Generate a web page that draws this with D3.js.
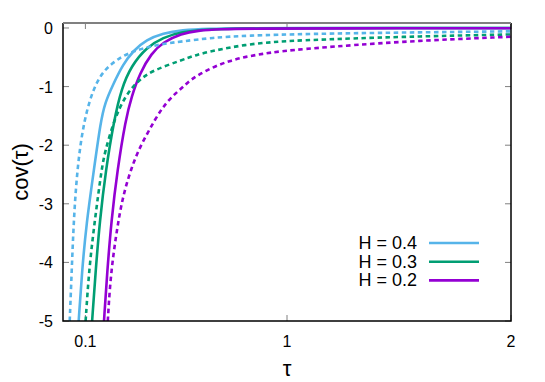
<!DOCTYPE html>
<html>
<head>
<meta charset="utf-8">
<script src="https://cdn.jsdelivr.net/npm/d3@7"></script>
<style>
body { margin: 0; background: #fff; }
text { font-family: "Liberation Sans", Arial, sans-serif; }
</style>
</head>
<body>
<svg id="chart" width="545" height="382"></svg>
<script>
// values: [tau, cov]
const solidH04 = [[0.070,-5],[0.085,-4.15],[0.104,-3.35],[0.138,-2.42],[0.168,-1.60],[0.188,-1.27],[0.224,-0.96],[0.268,-0.62],[0.313,-0.39],[0.373,-0.20],[0.447,-0.09],[0.529,-0.035],[0.65,-0.012],[0.8,-0.004],[1.0,-0.001],[1.5,0],[2.0,0]];
const solidH03 = [[0.130,-5],[0.146,-4.13],[0.164,-3.30],[0.191,-2.42],[0.228,-1.57],[0.261,-1.03],[0.306,-0.64],[0.373,-0.33],[0.447,-0.16],[0.529,-0.065],[0.65,-0.022],[0.8,-0.008],[1.0,-0.003],[1.5,-0.001],[2.0,0]];
const solidH02 = [[0.183,-5],[0.197,-4.18],[0.216,-3.28],[0.243,-2.42],[0.279,-1.57],[0.306,-1.17],[0.343,-0.77],[0.395,-0.43],[0.447,-0.24],[0.529,-0.095],[0.6,-0.045],[0.7,-0.02],[0.85,-0.01],[1.2,-0.006],[2.0,-0.004]];
const dashH04 = [[0.030,-5],[0.039,-4.13],[0.048,-3.28],[0.063,-2.42],[0.092,-1.57],[0.149,-0.86],[0.224,-0.575],[0.298,-0.415],[0.373,-0.33],[0.447,-0.27],[0.529,-0.23],[0.668,-0.165],[0.817,-0.13],[1.10,-0.10],[1.5,-0.078],[2.0,-0.057]];
const dashH03 = [[0.101,-5],[0.116,-4.13],[0.142,-3.28],[0.172,-2.42],[0.186,-2.13],[0.228,-1.57],[0.276,-1.17],[0.336,-0.89],[0.403,-0.72],[0.529,-0.55],[0.594,-0.46],[0.668,-0.39],[0.817,-0.28],[0.966,-0.23],[1.10,-0.205],[1.5,-0.15],[2.0,-0.11]];
const dashH02 = [[0.200,-5],[0.209,-4.415],[0.225,-3.845],[0.248,-3.276],[0.262,-2.992],[0.280,-2.708],[0.303,-2.423],[0.331,-2.138],[0.368,-1.855],[0.410,-1.57],[0.447,-1.34],[0.492,-1.15],[0.529,-1.03],[0.556,-0.93],[0.594,-0.82],[0.668,-0.67],[0.743,-0.56],[0.817,-0.49],[0.892,-0.44],[0.966,-0.40],[1.10,-0.35],[1.5,-0.23],[2.0,-0.15]];

const legendLabels = ["H = 0.4", "H = 0.3", "H = 0.2"];
const colors = ["#56b4e9", "#009e73", "#9400d3"];
const xTicks = [0.1, 1, 2];
const yTicks = [0, -1, -2, -3, -4, -5];

const svg = d3.select("#chart");
const plotLeft = 63, plotRight = 511, plotTop = 23, plotBottom = 321;

const x = d3.scaleLinear().domain([0, 2]).range([plotLeft, plotRight]);
const y = d3.scaleLinear().domain([-5, 0.085]).range([plotBottom, plotTop]);

svg.append("clipPath").attr("id", "clip")
    .append("rect")
    .attr("x", plotLeft).attr("y", plotTop)
    .attr("width", plotRight - plotLeft).attr("height", plotBottom - plotTop);

// ticks, mirrored on all four sides
let tickG = svg.append("g").attr("stroke", "#808080").attr("stroke-width", 1);
yTicks.forEach(function (t) {
    tickG.append("line").attr("x1", plotLeft).attr("x2", plotLeft + 6).attr("y1", y(t)).attr("y2", y(t));
    tickG.append("line").attr("x1", plotRight).attr("x2", plotRight - 6).attr("y1", y(t)).attr("y2", y(t));
});
xTicks.forEach(function (t) {
    tickG.append("line").attr("x1", x(t)).attr("x2", x(t)).attr("y1", plotBottom).attr("y2", plotBottom - 6);
    tickG.append("line").attr("x1", x(t)).attr("x2", x(t)).attr("y1", plotTop).attr("y2", plotTop + 6);
});

// tick labels
svg.append("g").selectAll("text")
    .data(yTicks)
    .enter()
    .append("text")
    .attr("x", 53)
    .attr("y", function (d) { return y(d) + 6; })
    .attr("text-anchor", "end")
    .attr("font-size", 16)
    .text(function (d) { return d; });

svg.append("g").selectAll("text")
    .data(xTicks)
    .enter()
    .append("text")
    .attr("x", function (d) { return x(d); })
    .attr("y", 347)
    .attr("text-anchor", "middle")
    .attr("font-size", 16)
    .text(function (d) { return d; });

// axis titles
svg.append("text")
    .attr("x", x(1)).attr("y", 376)
    .attr("text-anchor", "middle")
    .attr("font-size", 22)
    .text("τ");
svg.append("text")
    .attr("transform", "translate(28,172) rotate(-90)")
    .attr("text-anchor", "middle")
    .attr("font-size", 22)
    .text("cov(τ)");

// curves
let line = d3.line()
    .x(function (d) { return x(d[0]); })
    .y(function (d) { return y(d[1]); })
    .curve(d3.curveBasis);

let plotG = svg.append("g").attr("clip-path", "url(#clip)");
let series = [
    { data: solidH04, color: colors[0], dash: null },
    { data: solidH03, color: colors[1], dash: null },
    { data: solidH02, color: colors[2], dash: null },
    { data: dashH04, color: colors[0], dash: "4.5,3.5" },
    { data: dashH03, color: colors[1], dash: "4.5,3.5" },
    { data: dashH02, color: colors[2], dash: "4.5,3.5" }
];
plotG.selectAll("path")
    .data(series)
    .enter()
    .append("path")
    .attr("d", function (d) { return line(d.data); })
    .attr("fill", "none")
    .attr("stroke", function (d) { return d.color; })
    .attr("stroke-width", 2.6)
    .attr("stroke-dasharray", function (d) { return d.dash; });

// border: grey top, black elsewhere
svg.append("path")
    .attr("d", "M" + plotLeft + "," + plotTop + "V" + plotBottom + "H" + plotRight + "V" + plotTop)
    .attr("fill", "none")
    .attr("stroke", "#000")
    .attr("stroke-width", 1.5);
svg.append("line")
    .attr("x1", plotLeft).attr("x2", plotRight).attr("y1", plotTop).attr("y2", plotTop)
    .attr("stroke", "#808080")
    .attr("stroke-width", 2);

// legend
let legend = svg.append("g");
legendLabels.forEach(function (lab, i) {
    let ly = 243 + i * 18.7;
    legend.append("text")
        .attr("x", 417).attr("y", ly + 6)
        .attr("text-anchor", "end")
        .attr("font-size", 18)
        .text(lab);
    legend.append("line")
        .attr("x1", 429).attr("x2", 479)
        .attr("y1", ly).attr("y2", ly)
        .attr("stroke", colors[i])
        .attr("stroke-width", 2.6);
});
</script>
</body>
</html>
